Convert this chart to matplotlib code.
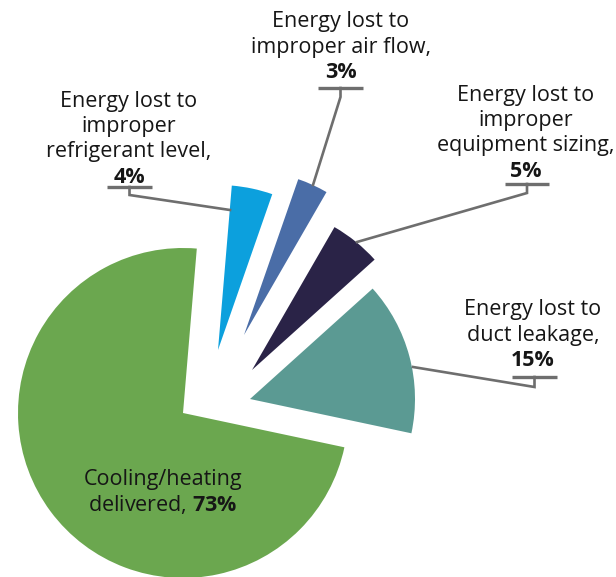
import matplotlib
matplotlib.use("Agg")
import matplotlib.pyplot as plt

# ---------------- data ----------------
categories = [
    "Energy lost to duct leakage",
    "Energy lost to improper equipment sizing",
    "Energy lost to improper air flow",
    "Energy lost to improper refrigerant level",
    "Cooling/heating delivered",
]
values = [15, 5, 3, 4, 73]
pct_labels = ["15%", "5%", "3%", "4%", "73%"]

# ---------------- style / layout ----------------
colors = ["#5B9A93", "#2A2347", "#4A6DA7", "#0CA0DD", "#6BA74F"]
W, H = 616, 577
plt.rcParams['font.family'] = ['Open Sans', 'DejaVu Sans']
plt.rcParams['mathtext.fontset'] = 'custom'
plt.rcParams['mathtext.rm'] = 'Open Sans'
plt.rcParams['mathtext.bf'] = 'Open Sans:bold'

fig = plt.figure(figsize=(W / 100, H / 100), dpi=100)
ax = fig.add_axes([0, 0, 1, 1])

def Y(y):  # image-pixel y (top-down) -> axis y (bottom-up)
    return H - y

radius = 165
center = (183, Y(413))
wedges, _ = ax.pie(values, colors=colors, startangle=-12, counterclock=True,
                   radius=radius, center=center,
                   wedgeprops=dict(linewidth=0))

# individual slice displacements (pixels, right / up)
shifts = [(67, 14), (69, 43), (61, 78), (35, 63), (0, 0)]
for w, (dx, dy) in zip(wedges, shifts):
    w.set_center((center[0] + dx, center[1] + dy))

ax.set_xlim(0, W)
ax.set_ylim(0, H)
ax.set_aspect('equal')
ax.axis('off')

txt_color = "#161616"
fs = 15.5
line_col = "#6e6e6e"

# label blocks: (x center, first line y, lines, pct)
label_blocks = [
    (533, 310, ["Energy lost to", "duct leakage,"], pct_labels[0]),
    (526, 95, ["Energy lost to", "improper", "equipment sizing,"], pct_labels[1]),
    (341, 22, ["Energy lost to", "improper air flow,"], pct_labels[2]),
    (129, 101, ["Energy lost to", "improper", "refrigerant level,"], pct_labels[3]),
]
step = 25.5
for xc, y0, lines, pct in label_blocks:
    for i, ln in enumerate(lines):
        ax.text(xc, Y(y0 + i * step), ln, ha='center', va='center',
                fontsize=fs, color=txt_color)
    ax.text(xc, Y(y0 + len(lines) * step), pct, ha='center', va='center',
            fontsize=fs, color=txt_color, fontweight='bold')

# leader lines: bar (x0,x1,y), tick bottom y, end point
leaders = [
    ((512, 557, 377), 387, (413, 367)),
    ((505, 549, 184), 193, (357, 242)),
    ((318, 363, 88), 97, (313, 185)),
    ((107, 152, 187), 195, (230, 210)),
]
for (bx0, bx1, by), ty, (ex, ey) in leaders:
    xm = (bx0 + bx1) / 2
    ax.plot([bx0, bx1], [Y(by), Y(by)], color=line_col, lw=2.4,
            solid_capstyle='butt')
    ax.plot([xm, xm, ex], [Y(by), Y(ty), Y(ey)], color=line_col, lw=1.9,
            solid_joinstyle='miter')

# green slice label
ax.text(163, Y(480), "Cooling/heating", ha='center', va='center',
        fontsize=fs, color=txt_color)
ax.text(163, Y(504), "delivered, $\\mathbf{" + pct_labels[4].replace('%', '\\%') + "}$",
        ha='center', va='center', fontsize=fs, color=txt_color)

fig.savefig("out.png", dpi=100)
